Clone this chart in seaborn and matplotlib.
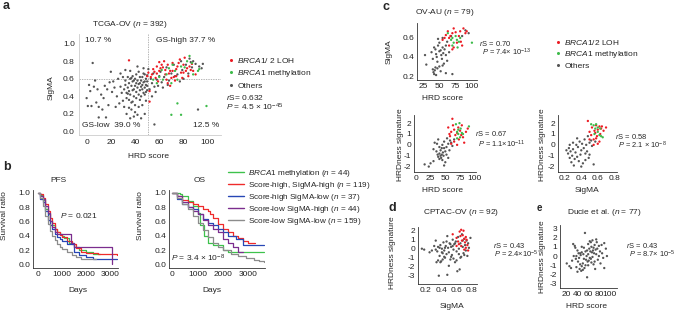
import numpy as np
import pandas as pd
import seaborn as sns
import matplotlib.pyplot as plt
from matplotlib.lines import Line2D

# ---- panel a: TCGA-OV, HRD score vs SigMA ----
a_gray_hrd = [5, 0, 1, 4, 6, 9, 2, 10, 10, 16, 14, 17, 20, 22, 25, 24, 27, 28, 12, 8, 18, 21, 23, 26, 19, 15, 13, 29, 7, 3,
              30, 32, 33, 35, 37, 39, 42, 39, 41, 44, 45, 47, 44, 48, 50, 51, 31, 32, 33, 34, 34, 35, 35, 36, 36, 37, 37, 38,
              38, 38, 39, 40, 40, 40, 41, 41, 42, 42, 43, 43, 43, 44, 45, 45, 46, 46, 46, 47, 47, 48, 48, 49, 49, 50, 50, 30,
              31, 33, 36, 40, 45, 48, 43, 49, 28, 32, 36, 42, 47, 39, 41, 44, 37, 34, 46, 48, 49, 50, 35, 38,
              56, 92, 73, 77, 82, 88, 90, 93, 87, 75, 66, 58, 60, 54, 56, 52, 59, 53, 55, 57, 62, 64, 68, 70, 72, 79, 84, 86,
              95, 63, 67, 54, 61, 80, 96, 85, 78]
a_gray_sig = [0.78, 0.38, 0.29, 0.29, 0.51, 0.48, 0.53, 0.28, 0.16, 0.16, 0.38, 0.48, 0.68, 0.57, 0.40, 0.28, 0.32, 0.51,
              0.42, 0.33, 0.30, 0.45, 0.50, 0.60, 0.56, 0.52, 0.25, 0.44, 0.58, 0.46,
              0.62, 0.53, 0.44, 0.36, 0.25, 0.17, 0.19, 0.48, 0.55, 0.62, 0.51, 0.44, 0.36, 0.65, 0.57, 0.71, 0.48, 0.58,
              0.38, 0.50, 0.62, 0.46, 0.55, 0.42, 0.60, 0.52, 0.33, 0.47, 0.57, 0.63, 0.40, 0.52, 0.60, 0.30, 0.45, 0.65,
              0.50, 0.58, 0.42, 0.54, 0.68, 0.47, 0.58, 0.40, 0.53, 0.62, 0.30, 0.56, 0.66, 0.50, 0.42, 0.60, 0.53, 0.47,
              0.64, 0.35, 0.28, 0.20, 0.15, 0.22, 0.15, 0.20, 0.28, 0.35, 0.66, 0.70, 0.69, 0.74, 0.72, 0.58, 0.38, 0.55,
              0.61, 0.43, 0.48, 0.57, 0.45, 0.52, 0.27, 0.34,
              0.08, 0.25, 0.63, 0.57, 0.76, 0.80, 0.77, 0.74, 0.73, 0.65, 0.73, 0.59, 0.63, 0.55, 0.51, 0.48, 0.52, 0.60,
              0.66, 0.45, 0.56, 0.62, 0.58, 0.66, 0.76, 0.70, 0.66, 0.79, 0.72, 0.50, 0.53, 0.40, 0.68, 0.60, 0.77, 0.83, 0.80]
a_red_hrd = [35, 52, 52, 55, 58, 60, 63, 65, 67, 69, 70, 71, 74, 75, 77, 78, 80, 81, 82, 84, 85, 88, 90, 54, 57, 59, 66, 62,
             50, 51, 74, 71, 79, 69, 67, 53, 56, 61, 64, 68, 72, 76, 83, 86, 73, 60, 58, 65, 80, 87]
a_red_sig = [0.81, 0.46, 0.34, 0.71, 0.74, 0.69, 0.73, 0.65, 0.76, 0.69, 0.61, 0.78, 0.71, 0.74, 0.82, 0.67, 0.76, 0.84,
             0.69, 0.63, 0.74, 0.69, 0.65, 0.65, 0.61, 0.57, 0.59, 0.76, 0.63, 0.67, 0.63, 0.69, 0.61, 0.52, 0.55, 0.62,
             0.68, 0.72, 0.80, 0.66, 0.62, 0.78, 0.72, 0.70, 0.58, 0.79, 0.66, 0.70, 0.67, 0.77]
a_green_hrd = [71, 73, 78, 85, 87, 81, 93, 88, 63, 58, 55, 66, 70, 75, 92, 75, 78, 70, 99, 62, 68, 83, 60]
a_green_sig = [0.76, 0.69, 0.74, 0.86, 0.78, 0.73, 0.71, 0.65, 0.59, 0.55, 0.59, 0.65, 0.55, 0.59, 0.69, 0.32, 0.19,
               0.19, 0.29, 0.70, 0.72, 0.80, 0.62]

# ---- panel b: Kaplan-Meier steps (days, survival) ----
groups = ['BRCA1 methylation', 'Score-high, SigMA-high', 'Score-high SigMA-low', 'Score-low SigMA-high', 'Score-low SigMA-low']
group_labels = [r'$\it{BRCA1}$ methylation ($\it{n}$ = 44)', r'Score-high, SigMA-high ($\it{n}$ = 119)',
                r'Score-high SigMA-low ($\it{n}$ = 37)', r'Score-low SigMA-high ($\it{n}$ = 44)',
                r'Score-low SigMA-low ($\it{n}$ = 159)']
pfs_days = {
    groups[0]: [0, 100, 200, 300, 400, 500, 600, 700, 800, 900, 1000, 1100, 1300, 1500, 1700, 2000, 2300, 2600],
    groups[1]: [0, 100, 200, 300, 400, 500, 600, 700, 800, 900, 1000, 1200, 1400, 1600, 1800, 2000, 2500, 3300],
    groups[2]: [0, 100, 200, 300, 400, 500, 600, 700, 800, 900, 1000, 1200, 1500, 1700, 2000, 2300, 3300],
    groups[3]: [0, 100, 200, 300, 400, 500, 600, 700, 800, 900, 1370, 1500, 3100],
    groups[4]: [0, 100, 200, 300, 400, 500, 600, 700, 800, 900, 1000, 1200, 1400, 1600, 1800, 2400],
}
pfs_surv = {
    groups[0]: [1.0, 0.97, 0.9, 0.78, 0.7, 0.6, 0.55, 0.5, 0.45, 0.42, 0.4, 0.37, 0.3, 0.25, 0.2, 0.17, 0.15, 0.15],
    groups[1]: [1.0, 0.98, 0.93, 0.85, 0.75, 0.65, 0.58, 0.5, 0.45, 0.41, 0.38, 0.33, 0.28, 0.23, 0.18, 0.16, 0.15, 0.13],
    groups[2]: [1.0, 0.92, 0.87, 0.75, 0.62, 0.55, 0.5, 0.43, 0.38, 0.35, 0.33, 0.28, 0.17, 0.13, 0.11, 0.08, 0.08],
    groups[3]: [1.0, 0.95, 0.92, 0.82, 0.72, 0.6, 0.52, 0.46, 0.43, 0.42, 0.3, 0.25, 0.0],
    groups[4]: [1.0, 0.93, 0.82, 0.68, 0.57, 0.47, 0.4, 0.34, 0.29, 0.25, 0.22, 0.17, 0.13, 0.1, 0.08, 0.08],
}
os_days = {
    groups[0]: [0, 300, 400, 600, 800, 1000, 1100, 1250, 1400, 1600, 2000, 2200, 3600],
    groups[1]: [0, 200, 400, 600, 800, 1000, 1200, 1400, 1500, 1600, 1800, 2000, 2200, 2400, 2600, 2800, 3000, 3250],
    groups[2]: [0, 200, 400, 600, 800, 1000, 1200, 1400, 1600, 1800, 2000, 2200, 2500, 2800, 3600],
    groups[3]: [0, 200, 400, 600, 800, 1000, 1200, 1400, 1600, 1800, 2000, 2200, 2400, 2600, 2800],
    groups[4]: [0, 200, 400, 600, 800, 1000, 1200, 1400, 1600, 1800, 2000, 2300, 2600, 2900, 3200, 3400, 3600],
}
os_surv = {
    groups[0]: [1.0, 0.98, 0.95, 0.88, 0.82, 0.72, 0.55, 0.4, 0.3, 0.27, 0.2, 0.17, 0.17],
    groups[1]: [1.0, 0.95, 0.9, 0.87, 0.85, 0.82, 0.78, 0.75, 0.7, 0.65, 0.57, 0.5, 0.45, 0.4, 0.37, 0.33, 0.3, 0.3],
    groups[2]: [1.0, 0.92, 0.85, 0.8, 0.77, 0.7, 0.63, 0.58, 0.55, 0.5, 0.45, 0.4, 0.35, 0.27, 0.27],
    groups[3]: [1.0, 0.95, 0.87, 0.8, 0.75, 0.7, 0.62, 0.55, 0.5, 0.45, 0.35, 0.3, 0.25, 0.17, 0.17],
    groups[4]: [1.0, 0.93, 0.85, 0.77, 0.68, 0.58, 0.48, 0.38, 0.3, 0.25, 0.2, 0.15, 0.12, 0.09, 0.06, 0.05, 0.03],
}

# ---- panel c: OV-AU ----
c1_gray_hrd = [28, 30, 38, 40, 42, 44, 45, 46, 47, 48, 50, 50, 52, 53, 54, 55, 55, 56, 57, 58, 60, 62, 40, 41, 42, 43, 44,
               45, 47, 50, 52, 55, 60, 70, 65, 60, 62, 48, 68, 90, 95, 85]
c1_gray_sig = [0.42, 0.32, 0.45, 0.38, 0.50, 0.48, 0.43, 0.40, 0.35, 0.52, 0.46, 0.55, 0.47, 0.42, 0.38, 0.50, 0.60, 0.44,
               0.33, 0.48, 0.42, 0.36, 0.27, 0.24, 0.22, 0.26, 0.29, 0.21, 0.28, 0.30, 0.25, 0.31, 0.23, 0.22, 0.45, 0.52,
               0.56, 0.59, 0.62, 0.68, 0.65, 0.62]
c1_red_hrd = [55, 58, 60, 63, 65, 67, 70, 72, 75, 77, 80, 82, 83, 87, 90, 92, 72, 70, 65, 85]
c1_red_sig = [0.58, 0.60, 0.63, 0.67, 0.60, 0.62, 0.65, 0.70, 0.66, 0.55, 0.62, 0.67, 0.56, 0.70, 0.65, 0.67, 0.50, 0.48,
              0.52, 0.52]
c1_green_hrd = [63, 68, 70, 72, 75, 77, 78, 80, 70, 100, 82]
c1_green_sig = [0.65, 0.58, 0.60, 0.55, 0.62, 0.58, 0.50, 0.56, 0.52, 0.55, 0.60]

c2_gray_hrd = [15, 22, 25, 30, 32, 35, 37, 38, 40, 40, 42, 42, 43, 44, 45, 45, 46, 47, 48, 48, 50, 50, 52, 53, 55, 55, 57,
               58, 60, 62, 65, 38, 30, 52, 44, 36, 48, 40]
c2_gray_hrdness = [-1.8, -2.0, -1.7, -0.4, 0.2, -0.6, -0.9, -1.1, -0.8, -1.3, -1.0, -0.5, -1.2, -0.9, 0.0, -1.4, -0.7,
                   -1.0, 0.3, -0.3, -0.6, -1.6, -0.2, 0.6, -1.2, 0.1, -0.5, 0.4, 0.2, -0.1, 0.5, 0.5, -1.5, -0.9, -0.3,
                   0.1, -1.9, -0.2]
c2_red_hrd = [55, 57, 58, 60, 62, 63, 65, 65, 67, 70, 70, 72, 73, 75, 78, 80, 82, 85, 88, 60, 77]
c2_red_hrdness = [1.6, 1.0, 0.8, 1.2, 2.4, 1.8, 1.4, 0.3, 0.9, 1.1, 0.0, 1.6, 0.5, 1.3, 1.8, 0.7, 0.2, 1.2, 1.5, 0.1, 0.9]
c2_green_hrd = [68, 70, 72, 74, 75, 76, 78, 80, 70, 90, 72]
c2_green_hrdness = [1.9, 1.2, 1.0, 2.0, 0.7, 1.5, 1.1, 1.0, 0.6, 1.7, 1.4]

c3_gray_sig = [0.22, 0.24, 0.25, 0.26, 0.27, 0.28, 0.29, 0.30, 0.31, 0.32, 0.33, 0.34, 0.35, 0.36, 0.37, 0.38, 0.39, 0.40,
               0.41, 0.42, 0.43, 0.44, 0.45, 0.46, 0.47, 0.48, 0.49, 0.50, 0.52, 0.53, 0.55, 0.57, 0.35, 0.30, 0.45, 0.40,
               0.50, 0.26]
c3_gray_hrdness = [-0.5, -0.8, -0.3, -1.2, -0.6, -1.6, -1.0, -0.4, -1.9, -1.3, -0.7, 0.0, -1.1, -0.2, -1.5, 0.3, -0.9,
                   -0.5, 0.1, -1.7, -0.3, 0.5, -0.8, 0.0, -0.6, 0.8, -1.2, 0.2, 0.4, -0.1, -1.8, 0.3, 0.6, 0.2, -1.4,
                   -2.0, -0.9, 0.0]
c3_red_sig = [0.48, 0.50, 0.52, 0.53, 0.55, 0.56, 0.58, 0.59, 0.60, 0.62, 0.63, 0.64, 0.65, 0.67, 0.55, 0.60, 0.57, 0.70,
              0.58, 0.62, 0.50]
c3_red_hrdness = [2.2, 1.2, 0.9, 1.6, 0.5, 1.3, 1.8, 0.8, 1.4, 1.7, 1.0, 1.5, 1.7, 1.3, 0.0, 0.1, 1.1, 1.6, 0.6, 0.3, 0.5]
c3_green_sig = [0.52, 0.55, 0.57, 0.58, 0.60, 0.62, 0.64, 0.56, 0.66, 0.60, 0.63]
c3_green_hrdness = [1.9, 1.8, 1.5, 1.9, 1.2, 0.9, 0.8, 1.0, 0.7, 1.6, 1.5]

# ---- panel d: CPTAC-OV ----
d_gray_sig = [0.15, 0.18, 0.25, 0.28, 0.33, 0.34, 0.35, 0.36, 0.37, 0.38, 0.39, 0.40, 0.41, 0.42, 0.43, 0.44, 0.45, 0.46,
              0.47, 0.48, 0.48, 0.49, 0.50, 0.51, 0.52, 0.53, 0.54, 0.55, 0.56, 0.57, 0.58, 0.59, 0.60, 0.61, 0.62, 0.63,
              0.64, 0.65, 0.66, 0.67, 0.68, 0.69, 0.70, 0.71, 0.72, 0.73, 0.74, 0.75, 0.76, 0.78, 0.36, 0.39, 0.42, 0.45,
              0.50, 0.53, 0.56, 0.60, 0.65, 0.70, 0.44, 0.38, 0.47, 0.55, 0.63, 0.68, 0.58, 0.52, 0.41, 0.33, 0.31]
d_gray_hrdness = [0.0, -0.1, -0.4, -0.2, 0.9, -1.5, -0.3, 0.2, -3.0, -0.8, 0.4, -1.4, 0.0, -0.5, 0.7, -0.2, -1.0, 0.3,
                  -0.6, 1.4, -2.9, 0.1, -0.4, 0.6, -1.2, 0.2, -0.7, 1.0, -0.1, 0.5, -1.5, 0.8, -0.3, -2.5, 1.3, 0.0,
                  -2.3, 0.6, -0.9, 1.6, 0.2, -0.5, 1.1, 0.4, -0.2, 0.9, -0.8, 0.6, 0.1, 1.2, -1.3, -1.5, -1.2, 0.1,
                  -1.9, -0.9, -1.1, -1.3, -1.0, -0.7, -0.9, 0.1, 0.8, 0.3, -0.6, 0.9, 0.6, 0.5, -0.4, -0.1, 0.3]
d_red_sig = [0.55, 0.60, 0.62, 0.64, 0.65, 0.66, 0.67, 0.68, 0.69, 0.70, 0.71, 0.72, 0.73, 0.74, 0.75, 0.66, 0.70, 0.63,
             0.72, 0.60]
d_red_hrdness = [1.6, 1.2, 0.8, 1.9, 1.4, 2.1, 0.9, 1.5, 2.0, 1.1, 0.7, 1.3, 1.0, 0.4, -0.2, 0.3, -0.1, 0.5, 0.1, 0.3]

# ---- panel e: Ducie et al. ----
e_hrd = [20, 25, 28, 30, 32, 33, 35, 36, 37, 38, 40, 40, 41, 42, 43, 44, 45, 46, 47, 48, 48, 50, 50, 51, 52, 53, 54, 55,
         55, 56, 57, 58, 58, 59, 60, 60, 61, 62, 63, 63, 64, 65, 65, 66, 67, 68, 68, 69, 70, 70, 71, 72, 73, 74, 75, 75,
         76, 77, 78, 80, 80, 82, 83, 85, 86, 88, 90, 90, 93, 95, 45, 38, 52, 60, 66, 72, 48]
e_hrdness = [-0.8, -1.1, -1.3, -0.5, 1.3, 0.0, 1.1, 0.9, -0.3, -1.2, 0.6, -1.7, -0.6, 0.3, -0.2, -1.4, -0.9, 0.1, -1.6,
             0.4, -1.1, -0.8, -1.5, 0.2, -0.3, -1.3, 2.5, 0.5, -1.0, -0.4, 0.0, -2.3, 0.6, -0.6, 1.3, 0.2, -0.5, 0.8,
             1.6, -0.2, 0.5, 1.5, -0.3, 1.0, 0.4, -0.1, 1.7, 0.6, 0.9, -0.9, 0.3, 1.2, -1.4, 0.7, 1.8, 0.2, 1.5, 0.8,
             -0.4, 1.1, 0.0, 0.5, -0.8, 1.2, 0.3, -0.2, 1.4, -1.3, 0.8, 0.0, 0.3, 0.0, 0.9, -1.0, -0.7, -0.6, 1.0]

RED, GREEN, GRAY = '#ec1c24', '#3dbb4a', '#555555'
km_colors = ['#3ec24c', '#ef2b2b', '#2747b5', '#7b2d8e', '#8c8c8c']

sns.set_theme(style='ticks')
plt.rcParams['font.family'] = ['Liberation Sans', 'DejaVu Sans']
plt.rcParams['mathtext.fontset'] = 'custom'
plt.rcParams['mathtext.rm'] = 'Liberation Sans'
plt.rcParams['mathtext.it'] = 'Liberation Sans:italic'
plt.rcParams['axes.unicode_minus'] = False

W, H = 682, 311
fig = plt.figure(figsize=(W / 100, H / 100), dpi=100)
FS = 6
SFS = 5.4  # stats text


def px_axes(l, t, r, b):
    return fig.add_axes([l / W, 1 - b / H, (r - l) / W, (b - t) / H])


def ftext(x, y, s, **kw):
    kw.setdefault('va', 'center')
    kw.setdefault('fontsize', FS)
    fig.text(x / W, 1 - y / H, s, **kw)


def style(ax, spine_color='#333333'):
    for side in ['top', 'right']:
        ax.spines[side].set_visible(False)
    for side in ['left', 'bottom']:
        ax.spines[side].set_color(spine_color)
        ax.spines[side].set_linewidth(0.6)
    ax.tick_params(length=0, pad=2, labelsize=FS, colors='#222222')
    ax.set_xlabel('')
    ax.set_ylabel('')


def scatter(ax, groups_xy):
    rows = []
    for name, xs, ys in groups_xy:
        rows += [(name, x, y) for x, y in zip(xs, ys)]
    df = pd.DataFrame(rows, columns=['grp', 'x', 'y'])
    sns.scatterplot(data=df, x='x', y='y', hue='grp', palette={'gray': GRAY, 'red': RED, 'green': GREEN},
                    s=2.8, linewidth=0, legend=False, ax=ax)


def dot_legend(x, y, labels, colors, spacing=0.35):
    handles = [Line2D([], [], marker='o', ls='', ms=2.2, mec='none', mfc=c) for c in colors]
    fig.legend(handles, labels, loc='upper left', bbox_to_anchor=(x / W, 1 - y / H), frameon=False, fontsize=FS,
               handlelength=0.6, handletextpad=0.5, labelspacing=spacing, borderpad=0, borderaxespad=0)


def stats(x, y, r, p, dy=9.5, indent=3):
    ftext(x, y, r'$\it{r}$S = ' + r, fontsize=SFS)
    ftext(x + indent, y + dy, r'$\it{P}$ = ' + p, fontsize=SFS)


# ---------------- panel a ----------------
ax = px_axes(79, 34, 221, 135)
scatter(ax, [('gray', a_gray_hrd, a_gray_sig), ('red', a_red_hrd, a_red_sig), ('green', a_green_hrd, a_green_sig)])
ax.axvline(51, color='#999999', lw=0.5, ls=(0, (2, 1.5)), zorder=0)
ax.axhline(0.6, color='#999999', lw=0.5, ls=(0, (2, 1.5)), zorder=0)
ax.set_xlim(-6.3, 111)
ax.set_ylim(-0.04, 1.11)
ax.set_xticks([0, 20, 40, 60, 80, 100])
ax.set_yticks([0.0, 0.2, 0.4, 0.6, 0.8, 1.0])
style(ax, spine_color='#cccccc')
ax.tick_params(pad=3)
ftext(3, 6, 'a', fontsize=9, weight='bold')
ftext(130, 24, r'TCGA-OV ($\it{n}$ = 392)', ha='center')
ftext(85, 40, '10.7 %')
ftext(156, 40, 'GS-high 37.7 %')
ftext(82, 126, 'GS-low  39.0 %')
ftext(193, 126, '12.5 %')
ftext(148, 156, 'HRD score', ha='center')
ftext(51, 88, 'SigMA', ha='center', rotation=90)
dot_legend(228, 56, [r'$\it{BRCA1}$/ 2 LOH', r'$\it{BRCA1}$ methylation', 'Others'], [RED, GREEN, GRAY])
ftext(226, 98, r'$\it{r}$S= 0.632')
ftext(226, 107.5, r'$\it{P}$ = 4.5 × 10$^{-45}$')

# ---------------- panel b ----------------
def km(ax, days, surv):
    rows = []
    for g in groups:
        rows += [(g, d, s) for d, s in zip(days[g], surv[g])]
    df = pd.DataFrame(rows, columns=['group', 'days', 'surv'])
    sns.lineplot(data=df, x='days', y='surv', hue='group', hue_order=groups, palette=km_colors,
                 drawstyle='steps-post', estimator=None, lw=0.9, legend=False, ax=ax)
    ax.set_ylim(-0.05, 1.04)
    ax.set_yticks([0.0, 0.2, 0.4, 0.6, 0.8, 1.0])
    ax.set_xticks([0, 1000, 2000, 3000])
    style(ax)


ax_pfs = px_axes(33, 190, 118, 268)
km(ax_pfs, pfs_days, pfs_surv)
ax_pfs.set_xlim(-210, 3330)
ax_os = px_axes(169, 190, 265, 268)
km(ax_os, os_days, os_surv)
ax_os.set_xlim(-130, 3650)
ftext(3, 167, 'b', fontsize=9, weight='bold')
ftext(58, 180, 'PFS', ha='center')
ftext(200, 180, 'OS', ha='center')
ftext(5, 216, 'Survival ratio', ha='center', rotation=90)
ftext(140, 216, 'Survival ratio', ha='center', rotation=90)
ftext(78, 290, 'Days', ha='center')
ftext(212, 290, 'Days', ha='center')
ftext(60, 215, r'$\it{P}$ = 0.021')
ftext(171, 258, r'$\it{P}$ = 3.4 × 10$^{-8}$')
km_handles = [Line2D([], [], color=c, lw=1.0) for c in km_colors]
fig.legend(km_handles, group_labels, loc='upper left', bbox_to_anchor=(228 / W, 1 - 168 / H), frameon=False,
           fontsize=5.9, handlelength=2.0, handletextpad=0.5, labelspacing=0.12, borderpad=0, borderaxespad=0)

# ---------------- panel c ----------------
ax = px_axes(417, 23, 477, 80)
scatter(ax, [('gray', c1_gray_hrd, c1_gray_sig), ('red', c1_red_hrd, c1_red_sig), ('green', c1_green_hrd, c1_green_sig)])
ax.set_xlim(15.7, 107.8)
ax.set_ylim(0.158, 0.757)
ax.set_xticks([25, 50, 75, 100])
ax.set_yticks([0.2, 0.4, 0.6])
style(ax)
ftext(383, 7, 'c', fontsize=9, weight='bold')
ftext(415, 13, r'OV-AU ($\it{n}$ = 79)')
ftext(443, 99, 'HRD score', ha='center')
ftext(389, 52, 'SigMA', ha='center', rotation=90)
stats(479, 43, '0.70', '7.4× 10$^{-13}$', dy=9.5)
dot_legend(555, 38, [r'$\it{BRCA1}$/2 LOH', r'$\it{BRCA1}$ methylation', 'Others'], [RED, GREEN, GRAY], spacing=0.25)

ax = px_axes(414, 115, 476, 172)
scatter(ax, [('gray', c2_gray_hrd, c2_gray_hrdness), ('red', c2_red_hrd, c2_red_hrdness),
             ('green', c2_green_hrd, c2_green_hrdness)])
ax.set_xlim(-3, 102)
ax.set_ylim(-2.5, 2.75)
ax.set_xticks([0, 25, 50, 75, 100])
ax.set_yticks([-2, -1, 0, 1, 2])
style(ax)
ftext(443, 190, 'HRD score', ha='center')
ftext(400, 145, 'HRDness signature', ha='center', rotation=90)
stats(475, 134, '0.67', '1.1×10$^{-11}$', dy=10)

ax = px_axes(558, 115, 617, 172)
scatter(ax, [('gray', c3_gray_sig, c3_gray_hrdness), ('red', c3_red_sig, c3_red_hrdness),
             ('green', c3_green_sig, c3_green_hrdness)])
ax.set_xlim(0.118, 0.833)
ax.set_ylim(-2.5, 2.75)
ax.set_xticks([0.2, 0.4, 0.6, 0.8])
ax.set_yticks([-2, -1, 0, 1, 2])
style(ax)
ftext(587, 190, 'SigMA', ha='center')
ftext(542, 145, 'HRDness signature', ha='center', rotation=90)
stats(615, 136, '0.58', '2.1 × 10$^{-8}$', dy=9.5)

# ---------------- panel d ----------------
ax = px_axes(418, 227, 477, 284)
scatter(ax, [('gray', d_gray_sig, d_gray_hrdness), ('red', d_red_sig, d_red_hrdness)])
ax.set_xlim(0.1, 0.865)
ax.set_ylim(-3.92, 2.41)
ax.set_xticks([0.2, 0.4, 0.6, 0.8])
ax.set_yticks([-3, -2, -1, 0, 1, 2])
style(ax)
ftext(388, 208, 'd', fontsize=9, weight='bold')
ftext(461, 213, r'CPTAC-OV ($\it{n}$ = 92)', ha='center')
ftext(452, 306, 'SigMA', ha='center')
ftext(392, 253, 'HRDness signature', ha='center', rotation=90)
stats(493, 245, '0.43', '2.4×10$^{-5}$', dy=9.5, indent=1)

# ---------------- panel e ----------------
ax = px_axes(560, 225, 617, 288)
scatter(ax, [('gray', e_hrd, e_hrdness)])
ax.set_xlim(7.4, 113.8)
ax.set_ylim(-3.46, 3.36)
ax.set_xticks([20, 40, 60, 80, 100])
ax.set_yticks([-3, -2, -1, 0, 1, 2, 3])
style(ax)
ftext(537, 208, 'e', fontsize=7, weight='bold')
ftext(604, 213, r'Ducie et al. ($\it{n}$ = 77)', ha='center')
ftext(587, 306, 'HRD score', ha='center')
ftext(542, 257, 'HRDness signature', ha='center', rotation=90)
stats(626, 245, '0.43', '8.7× 10$^{-5}$', dy=9.5)

fig.savefig('out.png', dpi=100)
